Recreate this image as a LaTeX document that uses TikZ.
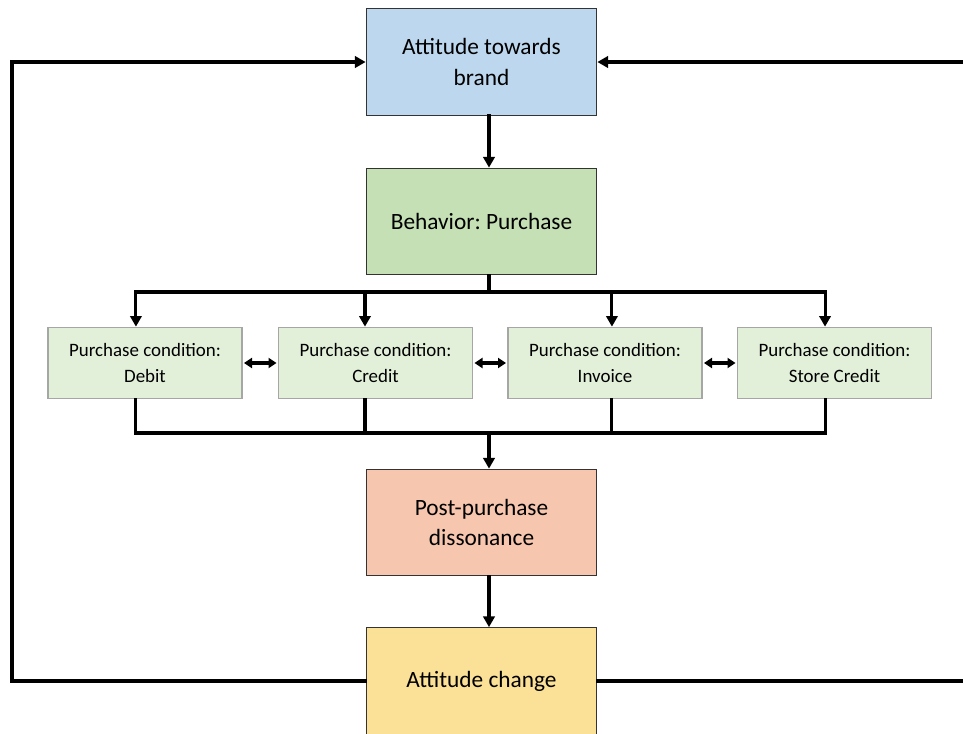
\documentclass[tikz,border=0pt]{standalone}
\usepackage{fontspec}
\setmainfont{Carlito}
\frenchspacing
\usetikzlibrary{arrows.meta}
\definecolor{brandblue}{HTML}{BDD7EE}
\definecolor{buygreen}{HTML}{C5E0B4}
\definecolor{condgreen}{HTML}{E2F0D9}
\definecolor{dissopeach}{HTML}{F6C7AE}
\definecolor{changeyellow}{HTML}{FBE197}
\begin{document}
\begin{tikzpicture}[x=0.75pt,y=-0.75pt,
  mainbox/.style={draw=black!80,line width=0.8pt,minimum width=173pt,minimum height=80pt,
    align=center,font=\fontsize{17.5}{23}\selectfont},
  condbox/.style={draw=black!35,line width=1pt,fill=condgreen,minimum width=145.5pt,minimum height=53.5pt,
    align=center,font=\fontsize{14.2}{18.8}\selectfont},
  conn/.style={line width=2.3pt,draw=black,line cap=rect},
  tip/.style={-{Triangle[length=8pt,width=8.5pt]}},
  swap/.style={{Triangle[length=6pt,width=7.5pt]}-{Triangle[length=6pt,width=7.5pt]},line width=2.3pt,shorten <=1pt,shorten >=1pt}
]
  \useasboundingbox (0,0) rectangle (963,733);
  \node[mainbox,fill=brandblue] (brand) at (481.5,62) {Attitude towards\\brand};
  \node[mainbox,fill=buygreen] (purchase) at (481.5,221.5) {Behavior: Purchase};
  \node[condbox] (debit) at (145,363) {Purchase condition:\\Debit};
  \node[condbox] (credit) at (375.5,363) {Purchase condition:\\Credit};
  \node[condbox] (invoice) at (605,363) {Purchase condition:\\Invoice};
  \node[condbox] (store) at (834.5,363) {Purchase condition:\\Store Credit};
  \node[mainbox,fill=dissopeach] (dissonance) at (481.5,522.5) {Post-purchase\\dissonance};
  \node[mainbox,fill=changeyellow] (change) at (481.5,681) {Attitude change};
  \coordinate (spine) at (489,0);
  \coordinate (topbus) at (489,292);
  \coordinate (botbus) at (489,433);
  \coordinate (leftrail) at (12,400);
  \coordinate (rightrail) at (980,400);
  \draw[conn,tip] (brand.south -| spine) -- (purchase.north -| spine);
  \draw[conn] (purchase.south -| spine) -- (topbus);
  \foreach \n/\s in {debit/-6.8pt,credit/-7.9pt,invoice/5.2pt,store/-7.1pt}
  {
    \draw[conn,tip] (topbus) -| ([xshift=\s]\n.north);
    \draw[conn] ([xshift=\s]\n.south) |- (botbus);
  }
  \draw[conn,tip] (botbus) -- (dissonance.north -| spine);
  \draw[conn,tip] (dissonance.south -| spine) -- (change.north -| spine);
  \draw[swap] (debit) -- (credit);
  \draw[swap] (credit) -- (invoice);
  \draw[swap] (invoice) -- (store);
  \draw[conn,tip] (change.west) -| (leftrail) |- (brand.west);
  \draw[conn,tip] (change.east) -| (rightrail) |- (brand.east);
\end{tikzpicture}
\end{document}
